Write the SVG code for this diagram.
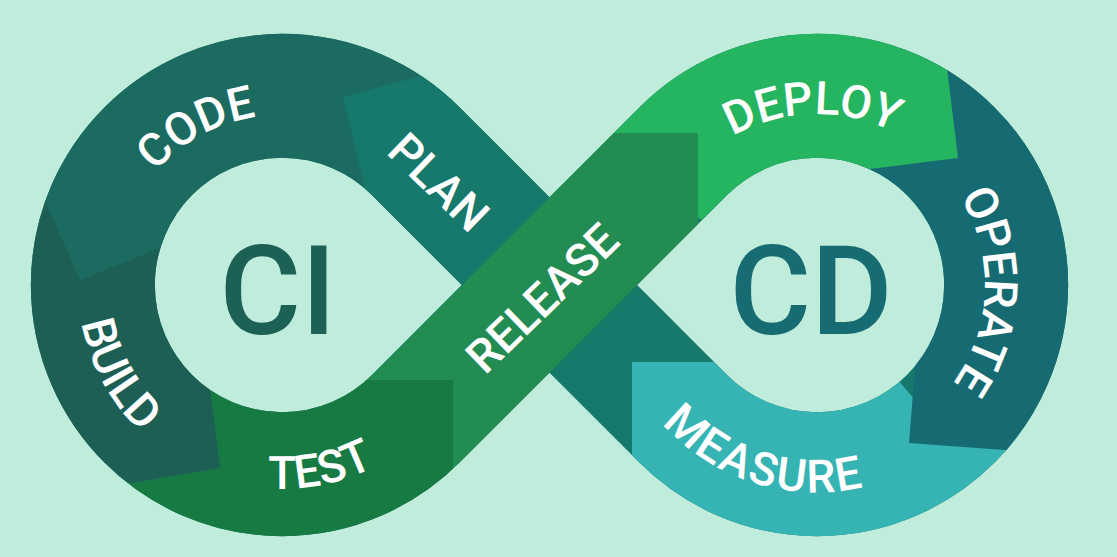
<svg xmlns="http://www.w3.org/2000/svg" width="1117" height="557" viewBox="0 0 1117 557">
<style>
.lbl{font-family:Roboto,"Liberation Sans",sans-serif;font-weight:500;font-size:46px;fill:#ffffff;}
.big{font-family:Roboto,"Liberation Sans",sans-serif;font-weight:500;font-size:125px;text-anchor:middle;}
</style>
<defs>
<mask id="band" maskUnits="userSpaceOnUse" x="0" y="0" width="1117" height="557">
<path d="M415.75,151.25 A189.15,189.15 0 1 0 415.75,418.75 L683.25,151.25 A189.15,189.15 0 1 1 683.25,418.75 Z" fill="none" stroke="#fff" stroke-width="124" stroke-linejoin="round"/>
</mask>
<path id="pCode" d="M115.4,251.1 A170,170 0 0 1 344.3,126.8"/>
<path id="pBuild" d="M92.2,210.2 A204,204 0 0 0 241.3,484.9"/>
<path id="pTest" d="M155.3,444.9 A204,204 0 0 0 461.4,382"/>
<path id="pDeploy" d="M683.2,178.6 A171,171 0 0 1 945.1,171.7"/>
<path id="pOperate" d="M929.3,160.5 A167,167 0 0 1 920.4,416.6"/>
<path id="pMeasure" d="M613.4,325.8 A207,207 0 0 0 960.5,434.1"/>
</defs>
<rect x="0" y="0" width="1117" height="557" fill="#c0ecdb"/>
<g id="connectors"></g>
<g id="band-base">
<rect x="0" y="0" width="1117" height="557" fill="#17786c" mask="url(#band)"/>
</g>
<g id="measure">
<polygon points="632,362 632,560 1050,560 1050,440 915,400 817,285 760,362" fill="#36b4b4" mask="url(#band)"/>
<text class="lbl" text-anchor="middle" letter-spacing="2"><textPath href="#pMeasure" startOffset="50%">MEASURE</textPath></text>
</g>
<g id="operate">
<polygon points="909,443 1100,457 1100,50 930,20 850,170 817,285 918,329" fill="#166b73" mask="url(#band)"/>
<text class="lbl" text-anchor="middle"><textPath href="#pOperate" startOffset="50%">OPERATE</textPath></text>
</g>
<g id="deploy">
<polygon points="958,158 936,-22 600,-22 600,150 760,260 838,173" fill="#25b45f" mask="url(#band)"/>
<text class="lbl" text-anchor="middle"><textPath href="#pDeploy" startOffset="50%">DEPLOY</textPath></text>
</g>
<g id="test">
<polygon points="453,380 453,560 60,560 54,496 220,468 205,348 282,285 330,380" fill="#177a42" mask="url(#band)"/>
<text class="lbl" text-anchor="middle"><textPath href="#pTest" startOffset="50%">TEST</textPath></text>
</g>
<g id="build">
<polygon points="220,468 205,348 282,285 120,180 -20,150 -20,400 54,496" fill="#1d5f55" mask="url(#band)"/>
<text class="lbl" text-anchor="middle"><textPath href="#pBuild" startOffset="50%">BUILD</textPath></text>
</g>
<g id="code">
<polygon points="80,280 30,167 60,-10 430,-10 540,190 282,285 200,232" fill="#1b6b60" mask="url(#band)"/>
<text class="lbl" text-anchor="middle"><textPath href="#pCode" startOffset="50%">CODE</textPath></text>
</g>
<g id="plan">
<polygon points="343,97 491,57 560,186.8 430,316.8 375,229" fill="#17786c" mask="url(#band)"/>
<text class="lbl" text-anchor="middle" transform="translate(439,182) rotate(44)" x="0" y="16.4">PLAN</text>
</g>
<g id="release">
<polygon points="366.8,380 613.8,133 698,133 698,224.2 453,469.2 453,380" fill="#238c52" mask="url(#band)"/>
<text class="lbl" text-anchor="middle" transform="translate(542,298) rotate(-44)" x="0" y="16.4">RELEASE</text>
</g>
<g id="ci">
<text class="big" x="278" y="334" fill="#1d6156">CI</text>
</g>
<g id="cd">
<text class="big" x="811" y="334" fill="#176b73">CD</text>
</g>
</svg>
